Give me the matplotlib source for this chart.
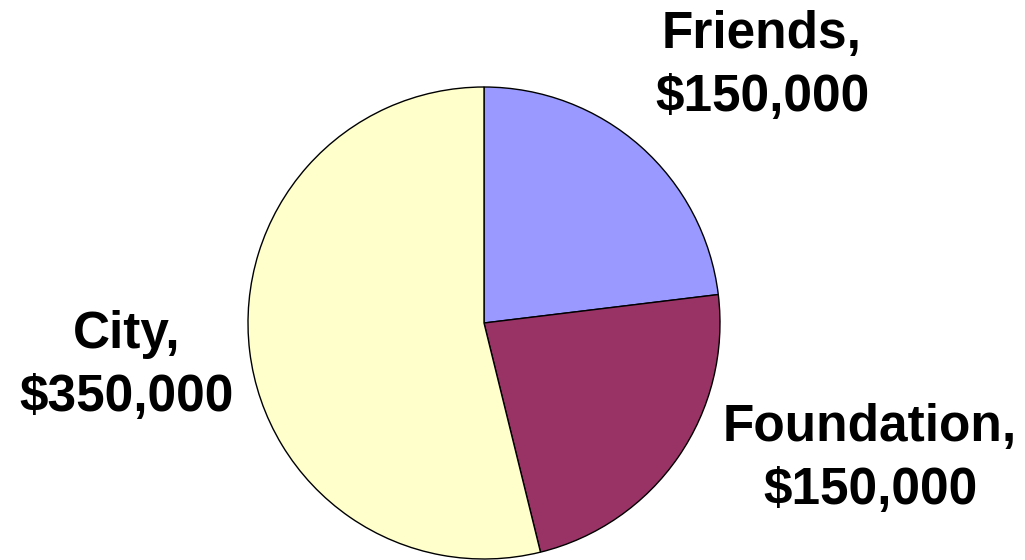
import matplotlib.pyplot as plt

labels = ["Friends", "Foundation", "City"]
amounts = [150000, 150000, 350000]
colors = ["#9999FF", "#993366", "#FFFFCC"]

plt.rcParams["font.family"] = ["Liberation Sans", "DejaVu Sans"]

fig = plt.figure(figsize=(10.25, 5.6), dpi=100)
ax = fig.add_axes([0, 0, 1, 1])

ax.pie(amounts, colors=colors, startangle=90, counterclock=False,
       center=(484, 237), radius=236,
       wedgeprops={"edgecolor": "black", "linewidth": 1.0})

# pie() resets the limits, so set them afterwards
ax.set_xlim(0, 1025)
ax.set_ylim(0, 560)
ax.set_aspect("equal")
ax.axis("off")

# label positions (pixel coords, y from bottom)
label_pos = [(762, 494), (870, 101), (127, 194)]
for name, amt, (x, y) in zip(labels, amounts, label_pos):
    ax.text(x, y, f"{name},\n${amt:,.0f}", ha="center", va="center",
            fontsize=37, fontweight="bold", linespacing=1.38)

fig.savefig("out.png", dpi=100)
